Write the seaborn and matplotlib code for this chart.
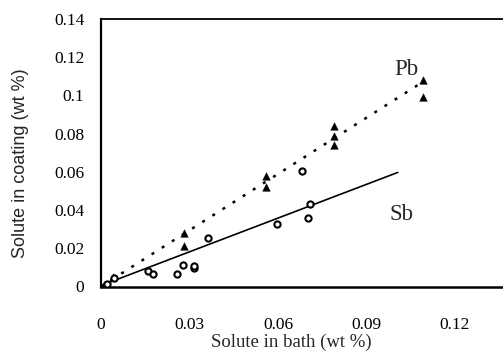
import matplotlib
matplotlib.use("Agg")
import matplotlib.pyplot as plt
import seaborn as sns
import pandas as pd

# Data
pb_bath = [0.001, 0.004, 0.028, 0.028, 0.056, 0.056, 0.079, 0.079, 0.079, 0.109, 0.109]
pb_coat = [0.001, 0.005, 0.028, 0.021, 0.058, 0.052, 0.084, 0.079, 0.074, 0.108, 0.099]

sb_bath = [0.002, 0.0044, 0.0158, 0.0177, 0.0257, 0.0279, 0.0316, 0.0316, 0.0362, 0.0597, 0.068, 0.0702, 0.0709]
sb_coat = [0.0015, 0.0047, 0.008, 0.0067, 0.0067, 0.0114, 0.0095, 0.0105, 0.0254, 0.0326, 0.0604, 0.0359, 0.0434]

pb_fit_x = [0.0, 0.109]
pb_fit_y = [0.0, 0.107]
sb_fit_x = [0.0, 0.1006]
sb_fit_y = [0.0005, 0.0597]

x_ticks = [0, 0.03, 0.06, 0.09, 0.12]
x_tick_labels = ["0", "0.03", "0.06", "0.09", "0.12"]
y_ticks = [0, 0.02, 0.04, 0.06, 0.08, 0.10, 0.12, 0.14]
y_tick_labels = ["0", "0.02", "0.04", "0.06", "0.08", "0.1", "0.12", "0.14"]

sns.set_style("white")
plt.rcParams["font.family"] = ["Liberation Serif", "DejaVu Serif"]

fig = plt.figure(figsize=(5.03, 3.56), dpi=100)
ax = fig.add_axes([101 / 503, 69.5 / 356, 402 / 503, 267.5 / 356])

pb_df = pd.DataFrame({"x": pb_bath, "y": pb_coat})
sb_df = pd.DataFrame({"x": sb_bath, "y": sb_coat})
pbf = pd.DataFrame({"x": pb_fit_x, "y": pb_fit_y})
sbf = pd.DataFrame({"x": sb_fit_x, "y": sb_fit_y})

sns.lineplot(data=pbf, x="x", y="y", ax=ax, color="black", linewidth=1.8,
             linestyle=(0, (1.2, 3.6)), estimator=None, sort=False)
sns.lineplot(data=sbf, x="x", y="y", ax=ax, color="black", linewidth=1.2,
             estimator=None, sort=False)
sns.scatterplot(data=pb_df, x="x", y="y", ax=ax, marker="^", s=30,
                color="black", edgecolor="black", linewidth=0.3, zorder=5)
sns.scatterplot(data=sb_df, x="x", y="y", ax=ax, marker="o", s=20,
                facecolor="white", edgecolor="black", linewidth=1.5, zorder=5)

ax.set_xlim(0, (503 - 101) / 88.5 * 0.03)
ax.set_ylim(0, 0.14)
ax.set_xticks(x_ticks)
ax.set_xticklabels(x_tick_labels)
ax.set_yticks(y_ticks)
ax.set_yticklabels(y_tick_labels)
ax.tick_params(axis="both", length=0, labelsize=12.5, colors="black")
ax.tick_params(axis="x", pad=22)
ax.tick_params(axis="y", pad=12)

for side in ["left", "bottom", "top"]:
    ax.spines[side].set_visible(True)
    ax.spines[side].set_color("black")
ax.spines["left"].set_linewidth(1.6)
ax.spines["bottom"].set_linewidth(1.8)
ax.spines["top"].set_linewidth(1.3)
ax.spines["right"].set_visible(False)

ax.set_xlabel("Solute in bath (wt %)", fontsize=13.5)
ax.set_ylabel("Solute in coating (wt %)", fontsize=13,
              family=["Liberation Sans", "DejaVu Sans"])
ax.xaxis.label.set_va("center")
ax.yaxis.label.set_va("center")
ax.xaxis.set_label_coords((291 - 101) / 402, -(342 - 286.5) / 267.5)
ax.yaxis.set_label_coords((21 - 101) / 402, (286.5 - 163) / 267.5)

ax.text(0.1035, 0.1135, "Pb", fontsize=16.5, ha="center", va="center")
ax.text(0.1018, 0.0378, "Sb", fontsize=16.5, ha="center", va="center")

fig.savefig("out.png", dpi=100)
